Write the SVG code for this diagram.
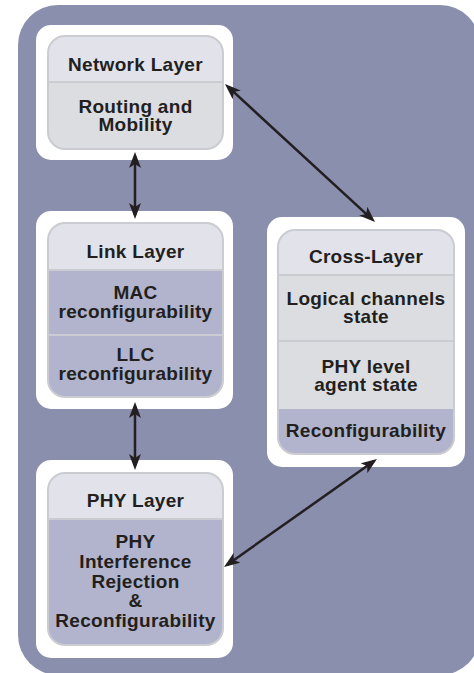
<svg xmlns="http://www.w3.org/2000/svg" width="474" height="673" viewBox="0 0 474 673">
  <defs>
    <style>
      .frame { fill: #ffffff; }
      .head { fill: #e1e2ea; }
      .gray { fill: #dcdde0; }
      .lav { fill: #b1b4cc; }
      .rim { fill: none; stroke: #cbccd1; stroke-width: 2; }
      .sep { stroke: #cbccd1; stroke-width: 2; }
      .lbl { font-family: "Liberation Sans", Arial, sans-serif; font-weight: bold; font-size: 19px; letter-spacing: 0.3px; fill: #231f20; text-anchor: middle; }
      .link { stroke: #231f20; stroke-width: 2.5; fill: none; marker-start: url(#tip); marker-end: url(#tip); }
    </style>
    <marker id="tip" viewBox="0 0 16 12" refX="12" refY="6" markerWidth="16" markerHeight="12" markerUnits="userSpaceOnUse" orient="auto-start-reverse">
      <path d="M0,0 L16,6 L0,12 L4,6 Z" fill="#231f20"/>
    </marker>
    <clipPath id="cNet"><rect x="48" y="36" width="175" height="113" rx="17"/></clipPath>
    <clipPath id="cLink"><rect x="48" y="223" width="175" height="174" rx="17"/></clipPath>
    <clipPath id="cPhy"><rect x="48" y="473" width="175" height="172" rx="17"/></clipPath>
    <clipPath id="cCross"><rect x="278" y="230" width="176" height="224" rx="17"/></clipPath>
  </defs>

  <!-- backdrop panel -->
  <rect x="18" y="5" width="462" height="670" rx="40" fill="#8a8fae"/>

  <!-- Network Layer -->
  <g id="network">
    <rect class="frame" x="36" y="25" width="197" height="135" rx="15"/>
    <g clip-path="url(#cNet)">
      <rect class="head" x="48" y="36" width="175" height="46"/>
      <rect class="gray" x="48" y="82" width="175" height="67"/>
    </g>
    <line class="sep" x1="48" y1="82" x2="223" y2="82"/>
    <rect class="rim" x="48" y="36" width="175" height="113" rx="17"/>
    <text class="lbl" x="135.5" y="71">Network Layer</text>
    <text class="lbl" x="135.5" y="113">Routing and</text>
    <text class="lbl" x="135.5" y="131">Mobility</text>
  </g>

  <!-- Link Layer -->
  <g id="link">
    <rect class="frame" x="36" y="211" width="197" height="198" rx="15"/>
    <g clip-path="url(#cLink)">
      <rect class="head" x="48" y="223" width="175" height="47"/>
      <rect class="lav" x="48" y="270" width="175" height="127"/>
    </g>
    <line class="sep" x1="48" y1="270" x2="223" y2="270"/>
    <line class="sep" x1="48" y1="335" x2="223" y2="335"/>
    <rect class="rim" x="48" y="223" width="175" height="174" rx="17"/>
    <text class="lbl" x="135.5" y="258">Link Layer</text>
    <text class="lbl" x="135.5" y="299">MAC</text>
    <text class="lbl" x="135.5" y="318">reconfigurability</text>
    <text class="lbl" x="135.5" y="361">LLC</text>
    <text class="lbl" x="135.5" y="380">reconfigurability</text>
  </g>

  <!-- PHY Layer -->
  <g id="phy">
    <rect class="frame" x="36" y="460" width="197" height="198" rx="15"/>
    <g clip-path="url(#cPhy)">
      <rect class="head" x="48" y="473" width="175" height="46"/>
      <rect class="lav" x="48" y="519" width="175" height="126"/>
    </g>
    <line class="sep" x1="48" y1="519" x2="223" y2="519"/>
    <rect class="rim" x="48" y="473" width="175" height="172" rx="17"/>
    <text class="lbl" x="135.5" y="507">PHY Layer</text>
    <text class="lbl" x="135.5" y="548">PHY</text>
    <text class="lbl" x="135.5" y="568">Interference</text>
    <text class="lbl" x="135.5" y="588">Rejection</text>
    <text class="lbl" x="135.5" y="607">&amp;</text>
    <text class="lbl" x="135.5" y="627">Reconfigurability</text>
  </g>

  <!-- Cross-Layer -->
  <g id="cross">
    <rect class="frame" x="267" y="217" width="198" height="250" rx="15"/>
    <g clip-path="url(#cCross)">
      <rect class="head" x="278" y="230" width="176" height="45"/>
      <rect class="gray" x="278" y="275" width="176" height="134"/>
      <rect class="lav" x="278" y="409" width="176" height="45"/>
    </g>
    <line class="sep" x1="278" y1="275" x2="454" y2="275"/>
    <line class="sep" x1="278" y1="341" x2="454" y2="341"/>
    <rect class="rim" x="278" y="230" width="176" height="224" rx="17"/>
    <text class="lbl" x="366" y="263">Cross-Layer</text>
    <text class="lbl" x="366" y="305">Logical channels</text>
    <text class="lbl" x="366" y="323">state</text>
    <text class="lbl" x="366" y="373">PHY level</text>
    <text class="lbl" x="366" y="391">agent state</text>
    <text class="lbl" x="366" y="437">Reconfigurability</text>
  </g>

  <!-- connectors -->
  <g id="connectors">
    <line class="link" x1="227.9" y1="86.7" x2="372.1" y2="219.3"/>
    <line class="link" x1="135" y1="156" x2="135" y2="215"/>
    <line class="link" x1="135" y1="406" x2="135" y2="466"/>
    <line class="link" x1="227.3" y1="564.7" x2="373.7" y2="461.3"/>
  </g>
</svg>
